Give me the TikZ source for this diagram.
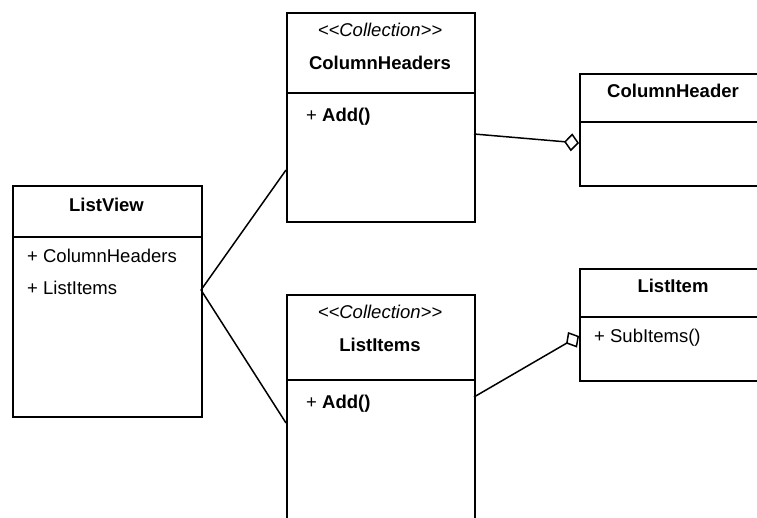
\documentclass[tikz,border=0pt]{standalone}
\usepackage{fontspec}
\setmainfont{Liberation Sans}
\usetikzlibrary{arrows.meta}
\newcommand{\stereotext}[1]{<\kern0pt<#1>\kern0pt>}
\tikzset{
  classbox/.style={draw=black, line width=1.8pt, fill=white, rectangle, inner sep=0pt, anchor=north west},
  divider/.style={line width=1.8pt},
  txt/.style={inner sep=0pt, font=\fontsize{18.5}{22}\selectfont},
  title/.style={txt, font=\fontsize{18.5}{22}\selectfont\bfseries, anchor=base},
  stereo/.style={txt, font=\fontsize{18.5}{22}\selectfont\itshape, anchor=base},
  member/.style={txt, anchor=base west},
  assoc/.style={line width=1.5pt},
  aggr/.style={line width=1.5pt, -{Diamond[open, length=15pt, width=18pt, fill=white]}}
}
\begin{document}
\begin{tikzpicture}[x=1pt, y=-1pt]
\useasboundingbox (0,0) rectangle (757,518);
\clip (0,0) rectangle (757,518);
\fill[white] (0,0) rectangle (757,518);

% ListView
\node[classbox, minimum width=189pt, minimum height=231pt] (listview) at (12,185) {};
\draw[divider] (12,237) -- (201,237);
\node[title] (lvtitle) at (106.5,212) {ListView};
\node[member] (lvm1) at (27,263) {+ ColumnHeaders};
\node[member] (lvm2) at (27,295) {+ ListItems};

% ColumnHeaders
\node[classbox, minimum width=188pt, minimum height=209pt] (colheaders) at (286,12) {};
\draw[divider] (286,93) -- (474,93);
\node[stereo] (chst) at (380,37) {\stereotext{Collection}};
\node[title] (chtitle) at (380,70) {ColumnHeaders};
\node[member] (chm1) at (306,122) {+ \textbf{Add()}};

% ListItems
\node[classbox, minimum width=188pt, minimum height=250pt] (listitems) at (286,294) {};
\draw[divider] (286,380) -- (474,380);
\node[stereo] (list) at (380,319) {\stereotext{Collection}};
\node[title] (lititle) at (380,352) {ListItems};
\node[member] (lim1) at (306,408) {+ \textbf{Add()}};

% ColumnHeader
\node[classbox, minimum width=188pt, minimum height=112pt] (colheader) at (579,73) {};
\draw[divider] (579,122) -- (767,122);
\node[title] (c1title) at (673,98) {ColumnHeader};

% ListItem
\node[classbox, minimum width=188pt, minimum height=112pt] (listitem) at (579,268) {};
\draw[divider] (579,317) -- (767,317);
\node[title] (l1title) at (673,293) {ListItem};
\node[member] (l1m1) at (594,342) {+ SubItems()};

% ports
\coordinate (lvport) at (201,290);
\coordinate (chin) at (286,170);
\coordinate (liin) at (286,423);
\coordinate (chout) at (474,134);
\coordinate (c1in) at (579,143);
\coordinate (liout) at (474,397);
\coordinate (l1in) at (579,336);

% connectors
\draw[assoc] (lvport) -- (chin);
\draw[assoc] (lvport) -- (liin);
\draw[aggr] (chout) -- (c1in);
\draw[aggr] (liout) -- (l1in);
\end{tikzpicture}
\end{document}
